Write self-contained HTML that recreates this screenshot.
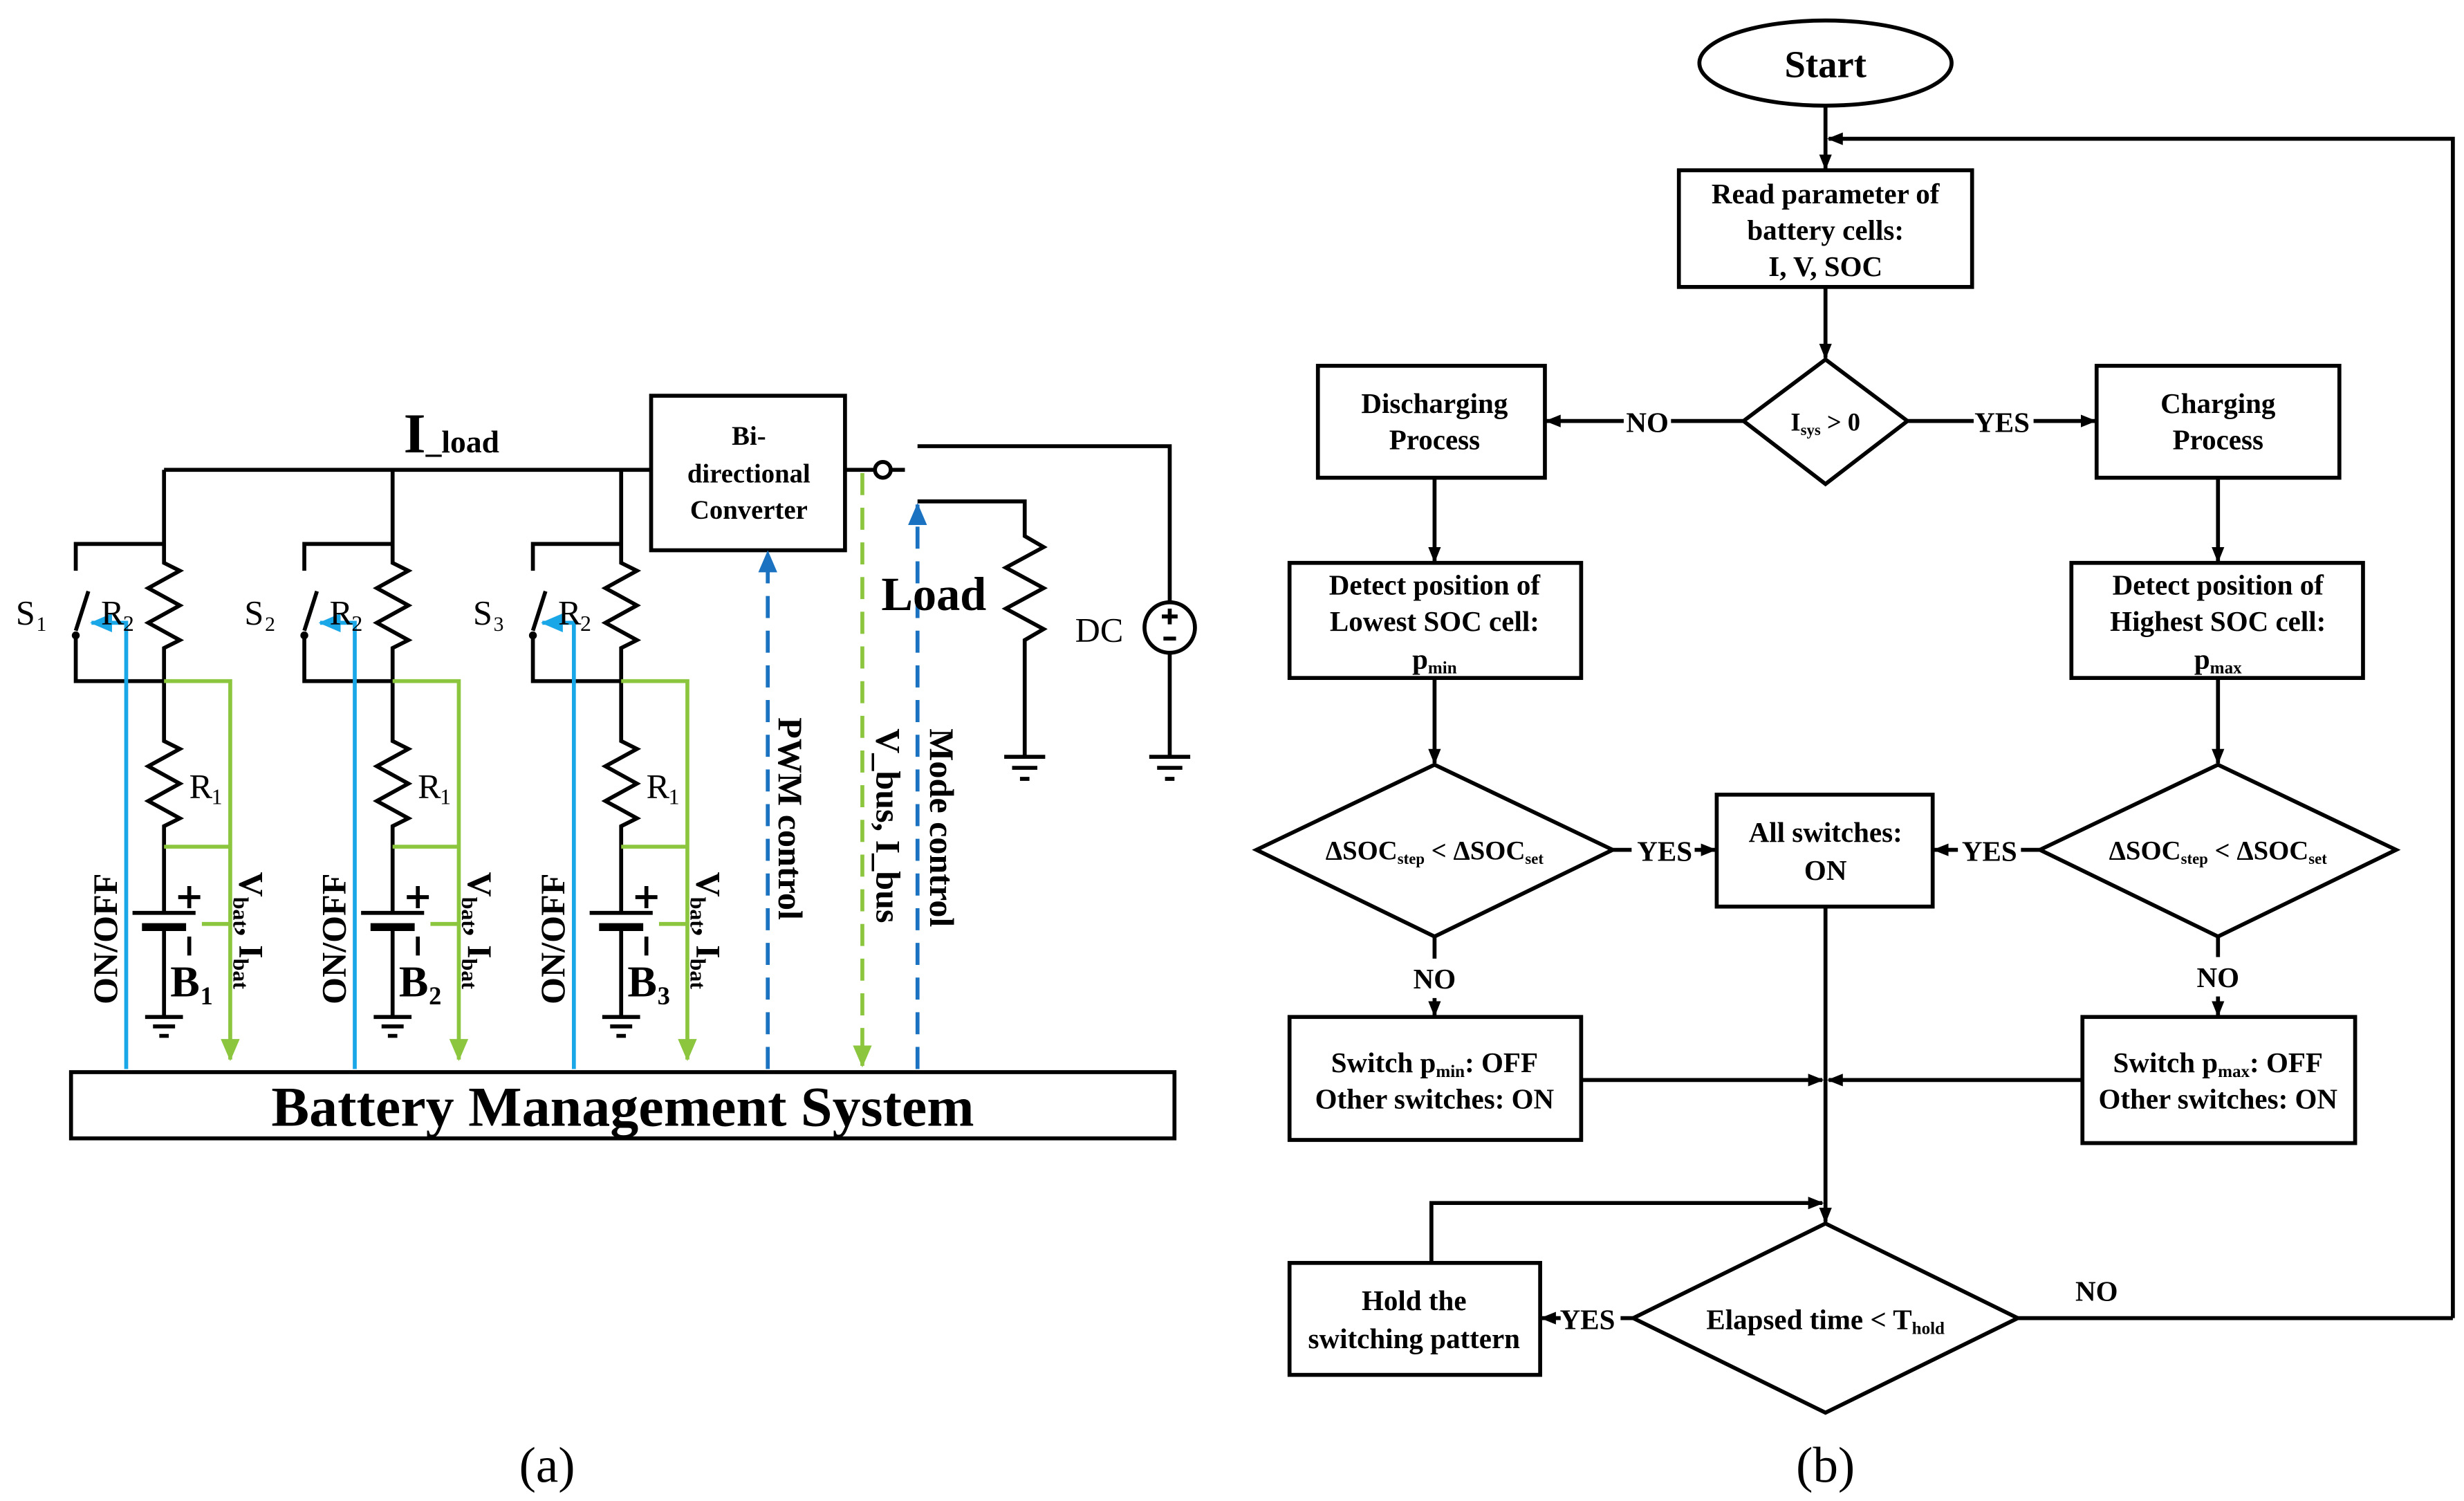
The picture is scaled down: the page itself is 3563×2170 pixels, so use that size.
<!DOCTYPE html>
<html><head><meta charset="utf-8"><style>
html,body{margin:0;padding:0;background:#fff}
svg{display:block}
text{font-family:"Liberation Serif",serif;fill:#000}
</style></head><body>
<svg width="3563" height="2170" viewBox="0 0 1563 952" xmlns="http://www.w3.org/2000/svg" font-weight="bold">
<defs>
<marker id="ak" markerWidth="10" markerHeight="10" refX="9" refY="5" orient="auto" markerUnits="userSpaceOnUse"><path d="M0,1 L10,5 L0,9 z" fill="#000"/></marker>
<marker id="ab" markerWidth="14" markerHeight="12" refX="13" refY="6" orient="auto" markerUnits="userSpaceOnUse"><path d="M0,0 L14,6 L0,12 z" fill="#1aa7e8"/></marker>
<marker id="ag" markerWidth="14" markerHeight="12" refX="13" refY="6" orient="auto" markerUnits="userSpaceOnUse"><path d="M0,0 L14,6 L0,12 z" fill="#8cc63f"/></marker>
<marker id="ad" markerWidth="14" markerHeight="12" refX="13" refY="6" orient="auto" markerUnits="userSpaceOnUse"><path d="M0,0 L14,6 L0,12 z" fill="#1a72c0"/></marker>
</defs>

<g stroke="#000" stroke-width="2.5" fill="none">
<path d="M104,298 L413,298"/>
<rect x="413" y="251" width="123" height="98"/>
</g>
<text x="256" y="287" font-size="36">I</text>
<text x="270" y="287" font-size="20">_load</text>
<text x="475" y="282" font-size="17" text-anchor="middle">Bi-</text>
<text x="475" y="306" font-size="17" text-anchor="middle">directional</text>
<text x="475" y="329" font-size="17" text-anchor="middle">Converter</text>

<g>
<g stroke="#000" stroke-width="2.5" fill="none">
<path d="M104,298 L104,357 L114,362 L94,373 L114,384 L94,395 L114,406 L104,411 L104,470 L114,475 L94,486 L114,497 L94,508 L114,519 L104,524 L104,578"/>
<path d="M104,345 L48,345 L48,362 M56,375 L48,400 M48,402 L48,432 L104,432"/>
<path d="M84,579 L124,579"/>
<path d="M90,588 L118,588" stroke-width="5"/>
<path d="M104,590 L104,645 M92,645 L116,645 M97,651 L111,651 M101,657 L107,657"/>
<path d="M120,562 L120,576 M113,569 L127,569 M120,594 L120,606"/>
</g>
<circle cx="48" cy="403" r="2.5" fill="#000"/>
<g stroke="#8cc63f" stroke-width="2.5" fill="none">
<path d="M104,432 L146,432 L146,672" marker-end="url(#ag)"/>
<path d="M104,537 L146,537 M128,586 L146,586"/>
</g>
<path d="M80,678 L80,395 L58,395" stroke="#1aa7e8" stroke-width="2.5" fill="none" marker-end="url(#ab)"/>
<text x="10" y="396" font-size="22" style="font-weight:normal">S</text>
<text x="23" y="400" font-size="13" style="font-weight:normal">1</text>
<text x="64" y="396" font-size="22" style="font-weight:normal">R</text>
<text x="78" y="400" font-size="14" style="font-weight:normal">2</text>
<text x="120" y="506" font-size="22" style="font-weight:normal">R</text>
<text x="134" y="510" font-size="14" style="font-weight:normal">1</text>
<text x="108" y="632" font-size="28">B</text>
<text x="127" y="637" font-size="16">1</text>
<text transform="translate(74,637) rotate(-90)" font-size="22">ON/OFF</text>
<text transform="translate(152,553) rotate(90)" font-size="22">V<tspan font-size="14" dy="4">bat</tspan><tspan dy="-4">, I</tspan><tspan font-size="14" dy="4">bat</tspan></text>
</g>

<g transform="translate(145,0)">
<g stroke="#000" stroke-width="2.5" fill="none">
<path d="M104,298 L104,357 L114,362 L94,373 L114,384 L94,395 L114,406 L104,411 L104,470 L114,475 L94,486 L114,497 L94,508 L114,519 L104,524 L104,578"/>
<path d="M104,345 L48,345 L48,362 M56,375 L48,400 M48,402 L48,432 L104,432"/>
<path d="M84,579 L124,579"/>
<path d="M90,588 L118,588" stroke-width="5"/>
<path d="M104,590 L104,645 M92,645 L116,645 M97,651 L111,651 M101,657 L107,657"/>
<path d="M120,562 L120,576 M113,569 L127,569 M120,594 L120,606"/>
</g>
<circle cx="48" cy="403" r="2.5" fill="#000"/>
<g stroke="#8cc63f" stroke-width="2.5" fill="none">
<path d="M104,432 L146,432 L146,672" marker-end="url(#ag)"/>
<path d="M104,537 L146,537 M128,586 L146,586"/>
</g>
<path d="M80,678 L80,395 L58,395" stroke="#1aa7e8" stroke-width="2.5" fill="none" marker-end="url(#ab)"/>
<text x="10" y="396" font-size="22" style="font-weight:normal">S</text>
<text x="23" y="400" font-size="13" style="font-weight:normal">2</text>
<text x="64" y="396" font-size="22" style="font-weight:normal">R</text>
<text x="78" y="400" font-size="14" style="font-weight:normal">2</text>
<text x="120" y="506" font-size="22" style="font-weight:normal">R</text>
<text x="134" y="510" font-size="14" style="font-weight:normal">1</text>
<text x="108" y="632" font-size="28">B</text>
<text x="127" y="637" font-size="16">2</text>
<text transform="translate(74,637) rotate(-90)" font-size="22">ON/OFF</text>
<text transform="translate(152,553) rotate(90)" font-size="22">V<tspan font-size="14" dy="4">bat</tspan><tspan dy="-4">, I</tspan><tspan font-size="14" dy="4">bat</tspan></text>
</g>

<g transform="translate(290,0)">
<g stroke="#000" stroke-width="2.5" fill="none">
<path d="M104,298 L104,357 L114,362 L94,373 L114,384 L94,395 L114,406 L104,411 L104,470 L114,475 L94,486 L114,497 L94,508 L114,519 L104,524 L104,578"/>
<path d="M104,345 L48,345 L48,362 M56,375 L48,400 M48,402 L48,432 L104,432"/>
<path d="M84,579 L124,579"/>
<path d="M90,588 L118,588" stroke-width="5"/>
<path d="M104,590 L104,645 M92,645 L116,645 M97,651 L111,651 M101,657 L107,657"/>
<path d="M120,562 L120,576 M113,569 L127,569 M120,594 L120,606"/>
</g>
<circle cx="48" cy="403" r="2.5" fill="#000"/>
<g stroke="#8cc63f" stroke-width="2.5" fill="none">
<path d="M104,432 L146,432 L146,672" marker-end="url(#ag)"/>
<path d="M104,537 L146,537 M128,586 L146,586"/>
</g>
<path d="M74,678 L74,395 L54,395" stroke="#1aa7e8" stroke-width="2.5" fill="none" marker-end="url(#ab)"/>
<text x="10" y="396" font-size="22" style="font-weight:normal">S</text>
<text x="23" y="400" font-size="13" style="font-weight:normal">3</text>
<text x="64" y="396" font-size="22" style="font-weight:normal">R</text>
<text x="78" y="400" font-size="14" style="font-weight:normal">2</text>
<text x="120" y="506" font-size="22" style="font-weight:normal">R</text>
<text x="134" y="510" font-size="14" style="font-weight:normal">1</text>
<text x="108" y="632" font-size="28">B</text>
<text x="127" y="637" font-size="16">3</text>
<text transform="translate(68,637) rotate(-90)" font-size="22">ON/OFF</text>
<text transform="translate(152,553) rotate(90)" font-size="22">V<tspan font-size="14" dy="4">bat</tspan><tspan dy="-4">, I</tspan><tspan font-size="14" dy="4">bat</tspan></text>
</g>

<path d="M487,678 L487,350" stroke="#1a72c0" stroke-width="2.5" stroke-dasharray="14,8" fill="none" marker-end="url(#ad)"/>
<path d="M547,300 L547,676" stroke="#8cc63f" stroke-width="2.5" stroke-dasharray="14,8" fill="none" marker-end="url(#ag)"/>
<path d="M582,678 L582,320" stroke="#1a72c0" stroke-width="2.5" stroke-dasharray="14,8" fill="none" marker-end="url(#ad)"/>
<text transform="translate(494,455) rotate(90)" font-size="22">PWM control</text>
<text transform="translate(556,462) rotate(90)" font-size="22">V_bus, I_bus</text>
<text transform="translate(590,462) rotate(90)" font-size="22">Mode control</text>

<g stroke="#000" stroke-width="2.5" fill="none">
<path d="M536,298 L555,298 M565,298 L574,298"/>
<circle cx="560" cy="298" r="5"/>
<path d="M582,283 L742,283 L742,382 M742,414 L742,480"/>
<circle cx="742" cy="398" r="16"/>
<path d="M729,480 L755,480 M734,487 L750,487 M739,494 L745,494"/>
<path d="M582,318 L650,318 L650,340 L662,347 L638,360 L662,373 L638,386 L662,399 L650,406 L650,480"/>
<path d="M637,480 L663,480 M642,487 L658,487 M647,494 L653,494"/>
<path d="M742,386 L742,396 M737,391 L747,391 M738,405 L746,405"/>
</g>
<text x="559" y="387" font-size="30">Load</text>
<text x="682" y="407" font-size="22" style="font-weight:normal">DC</text>

<rect x="45" y="680" width="700" height="42" stroke="#000" stroke-width="2.5" fill="none"/>
<text x="395" y="714" font-size="36" text-anchor="middle">Battery Management System</text>
<text x="347" y="940" font-size="32" text-anchor="middle" style="font-weight:normal">(a)</text>

<g stroke="#000" stroke-width="2.5" fill="none">
<ellipse cx="1158" cy="40" rx="80" ry="27"/>
<rect x="1065" y="108" width="186" height="74"/>
<path d="M1158,228 L1210,267 L1158,307 L1106,267 z"/>
<rect x="836" y="232" width="144" height="71"/>
<rect x="1330" y="232" width="154" height="71"/>
<rect x="818" y="357" width="185" height="73"/>
<rect x="1314" y="357" width="185" height="73"/>
<path d="M910,485 L1023,539 L910,594 L797,539 z"/>
<path d="M1407,485 L1520,539 L1407,594 L1294,539 z"/>
<rect x="1089" y="504" width="137" height="71"/>
<rect x="818" y="645" width="185" height="78"/>
<rect x="1321" y="645" width="173" height="80"/>
<path d="M1158,776 L1280,836 L1158,896 L1036,836 z"/>
<rect x="818" y="801" width="159" height="71"/>
</g>
<g stroke="#000" stroke-width="2.5" fill="none" marker-end="url(#ak)">
<path d="M1158,67 L1158,107"/>
<path d="M1556,836 L1556,88 L1160,88"/>
<path d="M1158,182 L1158,227"/>
<path d="M1030,267 L981,267"/>
<path d="M1290,267 L1329,267"/>
<path d="M910,303 L910,356"/>
<path d="M1407,303 L1407,356"/>
<path d="M910,430 L910,484"/>
<path d="M1407,430 L1407,484"/>
<path d="M1075,539 L1088,539"/>
<path d="M1242,539 L1227,539"/>
<path d="M910,633 L910,644"/>
<path d="M1407,632 L1407,644"/>
<path d="M1003,685 L1156,685"/>
<path d="M1321,685 L1160,685"/>
<path d="M1158,575 L1158,775"/>
<path d="M990,836 L978,836"/>
<path d="M908,801 L908,763 L1156,763"/>
</g>
<g stroke="#000" stroke-width="2.5" fill="none">
<path d="M1106,267 L1060,267 M1210,267 L1252,267 M1023,539 L1035,539 M1294,539 L1282,539 M910,594 L910,608 M1407,594 L1407,607 M1036,836 L1028,836 M1280,836 L1556,836"/>
</g>
<g font-size="18" text-anchor="middle">
<text x="1158" y="49" font-size="24">Start</text>
<text x="1158" y="129">Read parameter of</text>
<text x="1158" y="152">battery cells:</text>
<text x="1158" y="175">I, V, SOC</text>
<text x="1158" y="273" font-size="16">I<tspan font-size="10" dy="3">sys</tspan><tspan dy="-3"> &gt; 0</tspan></text>
<text x="1045" y="274">NO</text>
<text x="1270" y="274">YES</text>
<text x="910" y="262">Discharging</text>
<text x="910" y="285">Process</text>
<text x="1407" y="262">Charging</text>
<text x="1407" y="285">Process</text>
<text x="910" y="377">Detect position of</text>
<text x="910" y="400">Lowest SOC cell:</text>
<text x="910" y="424">p<tspan font-size="11" dy="3">min</tspan></text>
<text x="1407" y="377">Detect position of</text>
<text x="1407" y="400">Highest SOC cell:</text>
<text x="1407" y="424">p<tspan font-size="11" dy="3">max</tspan></text>
<text x="910" y="545" font-size="17">ΔSOC<tspan font-size="10" dy="3">step</tspan><tspan dy="-3"> &lt; ΔSOC</tspan><tspan font-size="10" dy="3">set</tspan></text>
<text x="1407" y="545" font-size="17">ΔSOC<tspan font-size="10" dy="3">step</tspan><tspan dy="-3"> &lt; ΔSOC</tspan><tspan font-size="10" dy="3">set</tspan></text>
<text x="1056" y="546">YES</text>
<text x="1262" y="546">YES</text>
<text x="1158" y="534">All switches:</text>
<text x="1158" y="558">ON</text>
<text x="910" y="627">NO</text>
<text x="1407" y="626">NO</text>
<text x="910" y="680">Switch p<tspan font-size="11" dy="3">min</tspan><tspan dy="-3">: OFF</tspan></text>
<text x="910" y="703">Other switches: ON</text>
<text x="1407" y="680">Switch p<tspan font-size="11" dy="3">max</tspan><tspan dy="-3">: OFF</tspan></text>
<text x="1407" y="703">Other switches: ON</text>
<text x="1158" y="843">Elapsed time &lt; T<tspan font-size="11" dy="3">hold</tspan></text>
<text x="1007" y="843">YES</text>
<text x="1330" y="825">NO</text>
<text x="897" y="831">Hold the</text>
<text x="897" y="855">switching pattern</text>
</g>
<text x="1158" y="940" font-size="32" text-anchor="middle" style="font-weight:normal">(b)</text>
</svg>
</body></html>
